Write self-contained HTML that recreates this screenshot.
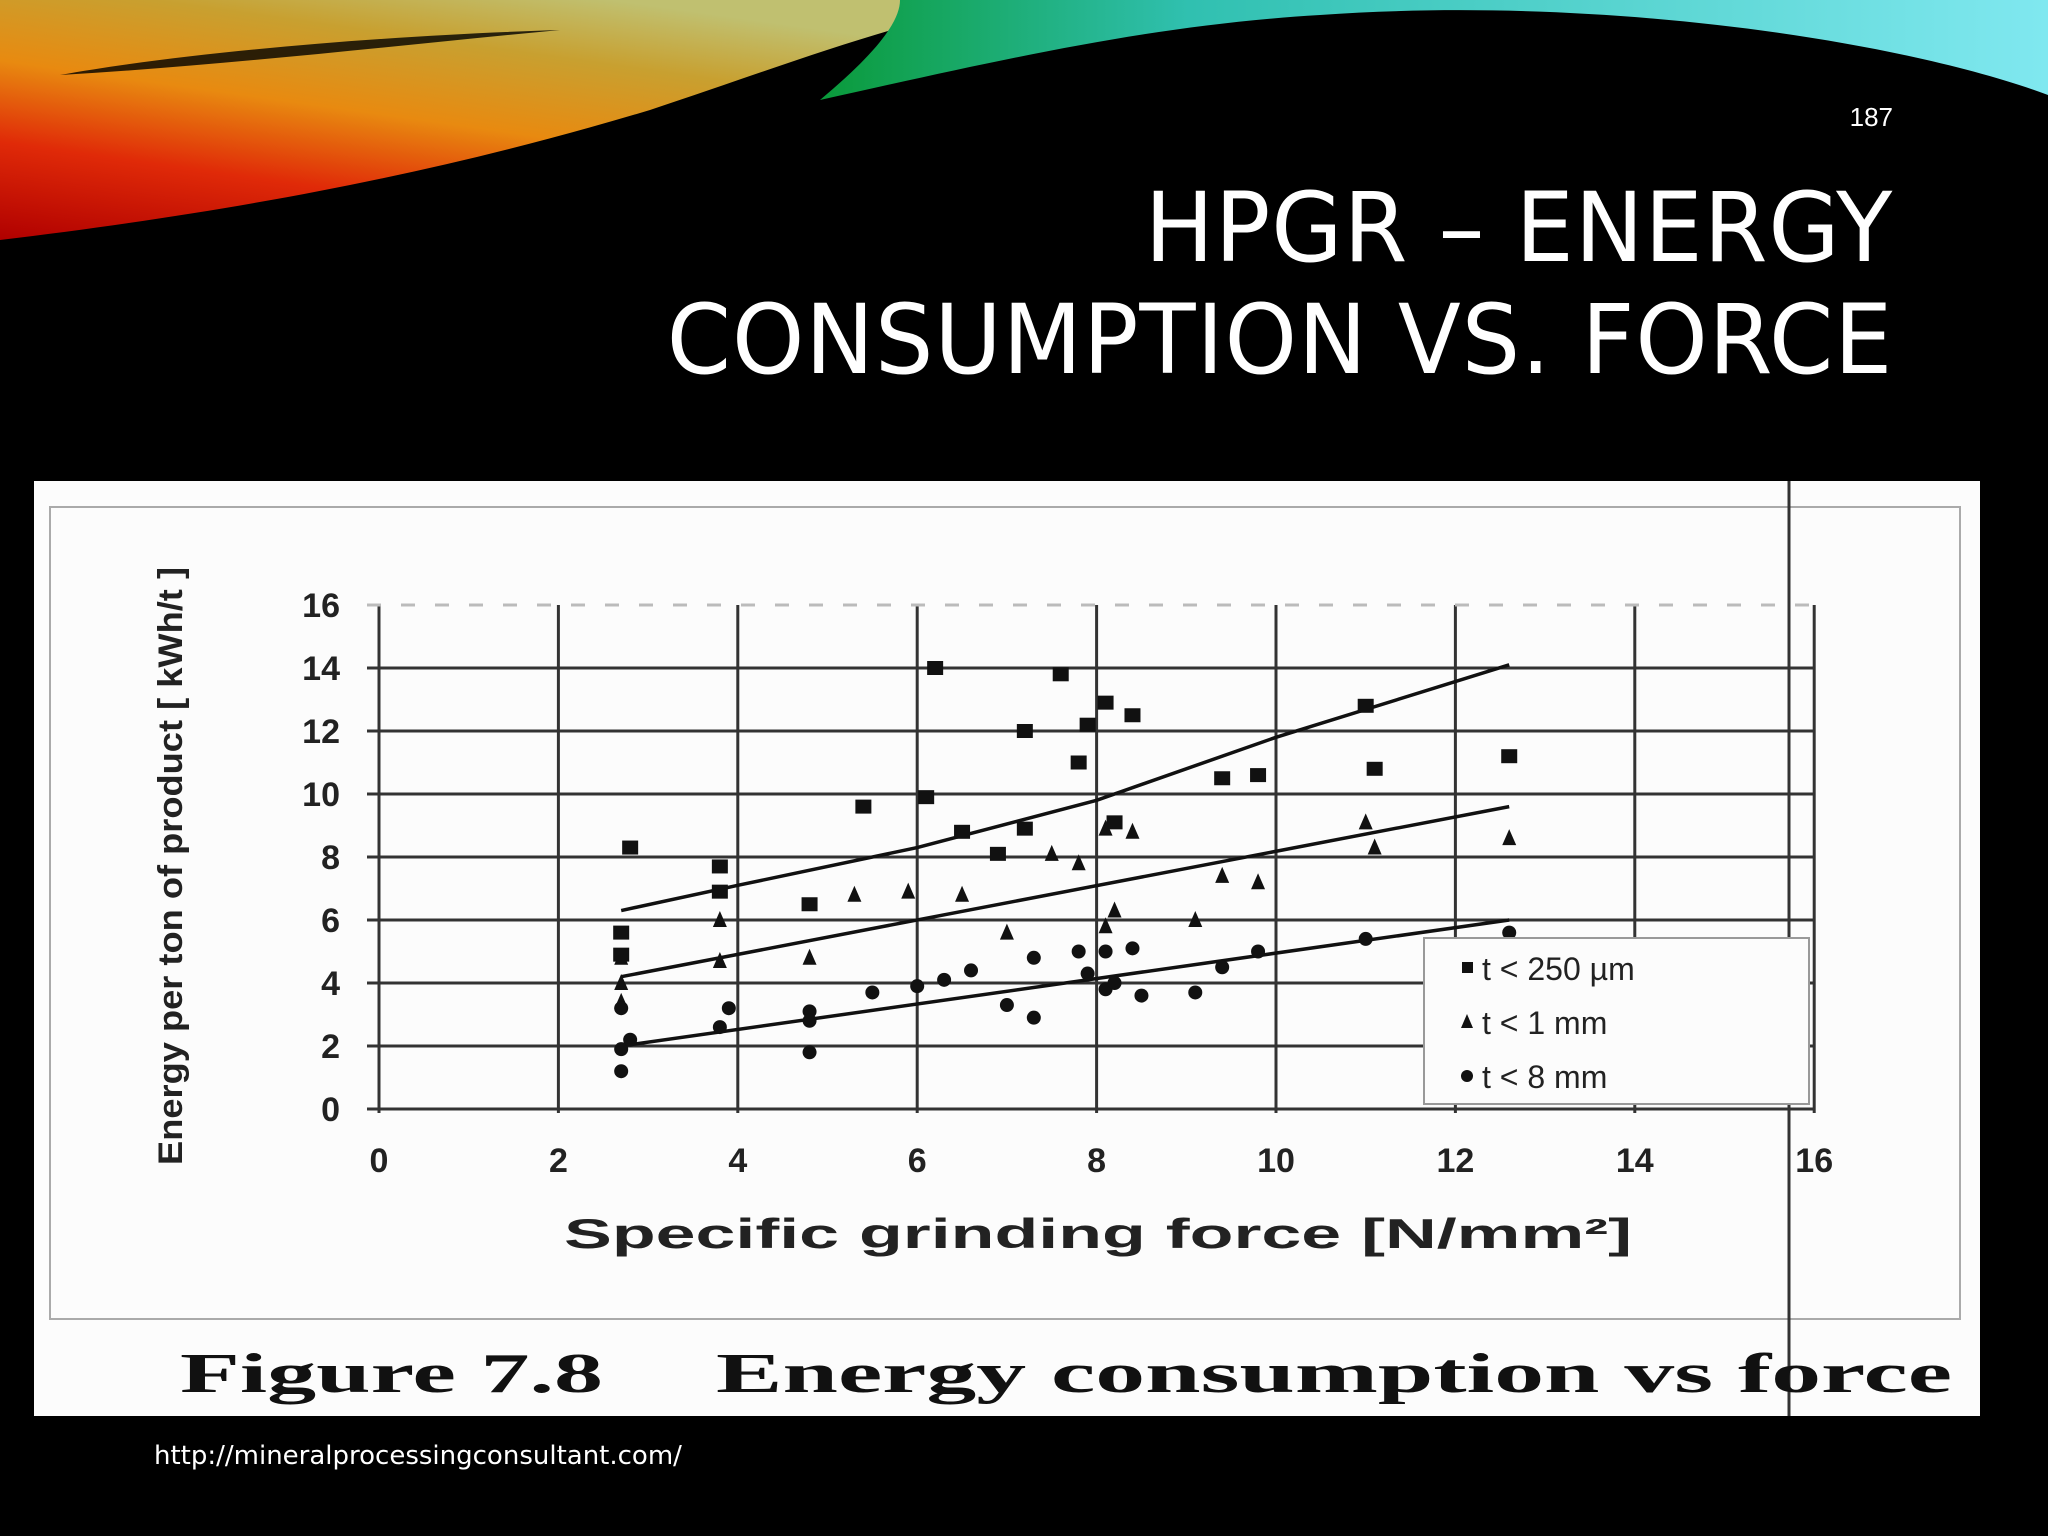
<!DOCTYPE html>
<html><head><meta charset="utf-8"><style>
html,body{margin:0;padding:0;background:#000;}
body{width:2048px;height:1536px;position:relative;overflow:hidden;font-family:"Liberation Sans",sans-serif;}
.t{position:absolute;color:#fff;}
</style></head><body>
<svg width="2048" height="260" style="position:absolute;left:0;top:0">
<defs>
<linearGradient id="warm" x1="0" y1="1" x2="0.6" y2="0">
<stop offset="0" stop-color="#b00000"/><stop offset="0.3" stop-color="#e02a08"/><stop offset="0.55" stop-color="#e88a10"/><stop offset="0.8" stop-color="#c8a030"/><stop offset="1" stop-color="#c0c070"/></linearGradient>
<linearGradient id="cool" x1="0" y1="0" x2="1" y2="0">
<stop offset="0" stop-color="#0a9a3a"/><stop offset="0.3" stop-color="#30c0b0"/><stop offset="1" stop-color="#80e8f0"/></linearGradient>
</defs>
<path d="M0 0 H1020 C900 20 800 60 650 110 C450 170 250 210 0 240 Z" fill="url(#warm)"/>
<path d="M900 0 H2048 V95 C1900 40 1600 -5 1320 15 C1150 25 1000 60 820 100 C880 50 900 20 900 0 Z" fill="url(#cool)"/>
<path d="M60 75 C200 50 400 35 560 30 C400 45 230 65 60 75 Z" fill="#000" opacity="0.8"/>
</svg>
<div class="t" style="right:155px;top:102px;font-size:26px;">187</div>
<div class="t" style="right:155px;top:172px;font-size:96px;line-height:112px;text-align:right;font-family:'DejaVu Sans','Liberation Sans',sans-serif;letter-spacing:1px;transform:scaleX(0.958);transform-origin:right top;">HPGR – ENERGY<br>CONSUMPTION VS. FORCE</div>
<div class="t" style="left:154px;top:1441px;font-size:26px;font-family:'DejaVu Sans',sans-serif;">http://mineralprocessingconsultant.com/</div>

<svg id="chart" width="2048" height="1536" style="position:absolute;left:0;top:0"></svg>
<script>
const xTicks=[0,2,4,6,8,10,12,14,16];
const yTicks=[0,2,4,6,8,10,12,14,16];
const sqX=[2.8,2.7,2.7,3.8,3.8,4.8,5.4,6.1,6.2,6.5,6.9,7.2,7.2,7.6,7.8,7.9,8.1,8.2,8.4,9.4,9.8,11.0,11.1,12.6];
const sqY=[8.3,5.6,4.9,7.7,6.9,6.5,9.6,9.9,14.0,8.8,8.1,12.0,8.9,13.8,11.0,12.2,12.9,9.1,12.5,10.5,10.6,12.8,10.8,11.2];
const trX=[2.7,2.7,2.7,3.8,3.8,4.8,5.3,5.9,6.5,7.0,7.5,7.8,8.1,8.1,8.2,8.4,9.1,9.4,9.8,11.0,11.1,12.6];
const trY=[4.8,4.0,3.4,6.0,4.7,4.8,6.8,6.9,6.8,5.6,8.1,7.8,8.9,5.8,6.3,8.8,6.0,7.4,7.2,9.1,8.3,8.6];
const ciX=[2.7,2.7,2.8,2.7,3.8,3.9,4.8,4.8,4.8,5.5,6.0,6.3,6.6,7.0,7.3,7.3,7.8,7.9,8.1,8.1,8.2,8.4,8.5,9.1,9.4,9.8,11.0,12.6];
const ciY=[1.2,1.9,2.2,3.2,2.6,3.2,1.8,3.1,2.8,3.7,3.9,4.1,4.4,3.3,2.9,4.8,5.0,4.3,5.0,3.8,4.0,5.1,3.6,3.7,4.5,5.0,5.4,5.6];
const fitTopX=[2.7,4,6,8,10,12.6];
const fitTopY=[6.3,7.1,8.3,9.8,11.8,14.1];
const fitMidX=[2.7,12.6];
const fitMidY=[4.2,9.6];
const fitLowX=[2.7,12.6];
const fitLowY=[2.0,6.0];

const svg=document.getElementById('chart');
const NS='http://www.w3.org/2000/svg';
const X=v=>379+89.7*v;
const Y=v=>1109-31.5*v;
function mk(tag,attrs,parent){const e=document.createElementNS(NS,tag);for(const k in attrs)e.setAttribute(k,attrs[k]);(parent||svg).appendChild(e);return e;}

let bg=mk('rect',{x:34,y:481,width:1946,height:935,fill:'#fcfcfc'});


let fr=mk('rect',{x:50,y:507,width:1910,height:812,fill:'none',stroke:'#aaa','stroke-width':2});



xTicks.forEach(v=>{
  let l=mk('line',{x1:X(v),x2:X(v),y1:Y(16),y2:Y(0)+4,stroke:'#333','stroke-width':3});
  
  
  let t=mk('text',{x:X(v),y:1172,'text-anchor':'middle','font-size':34,'font-weight':'bold',fill:'#222'});
  t.textContent=v;
  
  
});
yTicks.forEach(v=>{
  let l=mk('line',{x1:X(0)-12,x2:X(16),y1:Y(v),y2:Y(v),stroke:v==16?'#bbb':'#333','stroke-width':3,'stroke-dasharray':v==16?'14 20':'none'});
  
  
  let t=mk('text',{x:340,y:Y(v)+12,'text-anchor':'end','font-size':34,'font-weight':'bold',fill:'#222'});
  t.textContent=v;
  
  
});
let art=mk('line',{x1:1789,x2:1789,y1:481,y2:1416,stroke:'#333','stroke-width':3});



function fit(xs,ys,name){
  let d=xs.map((x,i)=>(i?'L':'M')+X(x)+' '+Y(ys[i])).join(' ');
  let p=mk('path',{d:d,fill:'none',stroke:'#111','stroke-width':3.5});
  
  
}
fit(fitTopX,fitTopY,'fit-line-250um');
fit(fitMidX,fitMidY,'fit-line-1mm');
fit(fitLowX,fitLowY,'fit-line-8mm');

sqX.forEach((x,i)=>{
  let r=mk('rect',{x:X(x)-8,y:Y(sqY[i])-7,width:16,height:14,fill:'#111'});
  
  
});
trX.forEach((x,i)=>{
  let cx=X(x),cy=Y(trY[i]);
  let p=mk('polygon',{points:`${cx},${cy-9} ${cx-7},${cy+7} ${cx+7},${cy+7}`,fill:'#111'});
  
  
});
ciX.forEach((x,i)=>{
  let c=mk('circle',{cx:X(x),cy:Y(ciY[i]),r:7,fill:'#111'});
  
  
});

let lg=mk('rect',{x:1424,y:938,width:385,height:166,fill:'#fcfcfc',stroke:'#999','stroke-width':2});


const legendLabels=['t < 250 µm','t < 1 mm','t < 8 mm'];
legendLabels.forEach((s,i)=>{
  let y=968+i*54;
  let m;
  if(i==0)m=mk('rect',{x:1462,y:y-6,width:11,height:11,fill:'#111'});
  else if(i==1)m=mk('polygon',{points:`1467,${y-8} 1461,${y+6} 1473,${y+6}`,fill:'#111'});
  else m=mk('circle',{cx:1467,cy:y,r:6,fill:'#111'});
  
  
  let t=mk('text',{x:1482,y:y+12,'font-size':32,fill:'#222'});
  t.textContent=s;
  
  
});

let xt=mk('text',{x:564,y:1248,'font-size':42,'font-weight':'bold',fill:'#222',textLength:1068,lengthAdjust:'spacingAndGlyphs'});
xt.textContent='Specific grinding force [N/mm²]';


let yt=mk('text',{x:0,y:0,'font-size':34,'font-weight':'bold',fill:'#222','text-anchor':'middle',textLength:598,lengthAdjust:'spacingAndGlyphs',transform:'translate(182,866) rotate(-90)'});
yt.textContent='Energy per ton of product [ kWh/t ]';


let cap1=mk('text',{x:180,y:1392,'font-size':56,'font-weight':'bold','font-family':'"Liberation Serif",serif',fill:'#111',textLength:423,lengthAdjust:'spacingAndGlyphs'});
cap1.textContent='Figure 7.8';


let cap2=mk('text',{x:716,y:1392,'font-size':56,'font-weight':'bold','font-family':'"Liberation Serif",serif',fill:'#111',textLength:1236,lengthAdjust:'spacingAndGlyphs'});
cap2.textContent='Energy consumption vs force';


</script>
</body></html>
